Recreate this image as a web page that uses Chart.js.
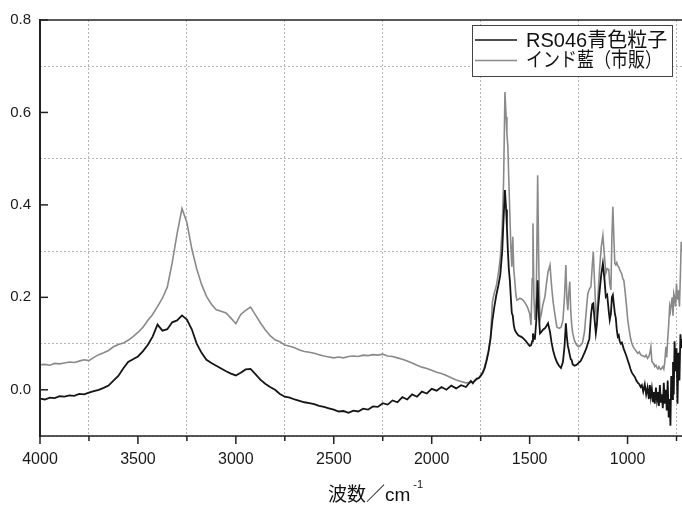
<!DOCTYPE html>
<html lang="ja">
<head>
<meta charset="utf-8">
<title>IR spectrum</title>
<script src="https://cdn.jsdelivr.net/npm/chart.js@4.4.1/dist/chart.umd.min.js"></script>
<style>
    html, body { margin: 0; padding: 0; background: #ffffff; }
    #wrap { position: relative; width: 682px; height: 505px; }
</style>
</head>
<body>
<div id="wrap"><canvas id="irChart"></canvas></div>
<script>
// ==========================================
// DATA
// ==========================================
const seriesLabels = ['RS046青色粒子', 'インド藍（市販）'];
const seriesColors = ['#151515', '#8a8a8a'];

// wavenumber, cm-1
const wavenumbers = [
    4000,3975,3950,3925,3900,3875,3850,3825,3800,3775,
    3750,3725,3700,3675,3650,3625,3600,3575,3550,3525,
    3500,3475,3450,3425,3400,3375,3350,3325,3300,3275,
    3250,3225,3200,3175,3150,3125,3100,3075,3050,3025,
    3000,2975,2950,2925,2900,2875,2850,2825,2800,2775,
    2750,2725,2700,2675,2650,2625,2600,2575,2550,2525,
    2500,2475,2450,2425,2400,2375,2350,2325,2300,2275,
    2250,2225,2200,2175,2150,2125,2100,2075,2050,2025,
    2000,1975,1950,1925,1900,1875,1850,1825,1800,1790,
    1780,1770,1760,1750,1740,1730,1720,1710,1700,1690,
    1680,1670,1660,1650,1640,1633,1626,1620,1616,1611,
    1606,1601,1596,1591,1586,1581,1576,1570,1565,1558,
    1550,1540,1530,1520,1510,1500,1493,1487,1483,1478,
    1473,1466,1459,1453,1447,1440,1432,1422,1414,1406,
    1396,1388,1380,1370,1361,1350,1340,1330,1322,1315,
    1310,1305,1300,1295,1290,1285,1280,1270,1260,1250,
    1240,1230,1220,1210,1203,1195,1187,1180,1175,1168,
    1162,1157,1150,1142,1134,1126,1118,1111,1104,1096,
    1091,1085,1080,1075,1070,1065,1060,1055,1050,1045,
    1040,1035,1029,1024,1019,1012,1005,999,992,985,
    978,970,963,955,947,940,933,927,920,912,
    905,898,891,886,881,876,870,865,861,855,
    850,845,840,835,830,825,820,815,810,804,
    800,795,790,785,781,777,772,768,764,760,
    755,750,745,740,735,730,726,722
];

// RS046青色粒子
const rs046Values = [
    -0.019,-0.021,-0.017,-0.018,-0.014,-0.015,-0.012,-0.013,-0.009,-0.010,
    -0.006,-0.003,0.000,0.004,0.009,0.020,0.030,0.046,0.060,0.066,
    0.072,0.083,0.097,0.115,0.141,0.128,0.131,0.146,0.150,0.161,
    0.152,0.131,0.100,0.080,0.065,0.058,0.052,0.046,0.040,0.035,
    0.031,0.037,0.044,0.045,0.034,0.022,0.013,0.006,0.000,-0.009,
    -0.015,-0.017,-0.021,-0.024,-0.027,-0.029,-0.031,-0.035,-0.037,-0.040,
    -0.043,-0.047,-0.046,-0.050,-0.045,-0.047,-0.041,-0.043,-0.036,-0.037,
    -0.029,-0.032,-0.023,-0.027,-0.016,-0.021,-0.010,-0.015,-0.004,-0.008,
    0.002,-0.002,0.006,0.000,0.009,0.003,0.010,0.006,0.019,0.014,
    0.020,0.024,0.025,0.030,0.036,0.046,0.062,0.082,0.110,0.150,
    0.180,0.205,0.225,0.248,0.300,0.370,0.432,0.390,0.352,0.300,
    0.260,0.237,0.200,0.166,0.160,0.140,0.130,0.125,0.122,0.118,
    0.116,0.114,0.110,0.106,0.100,0.095,0.096,0.105,0.122,0.110,
    0.110,0.150,0.237,0.160,0.122,0.125,0.130,0.133,0.138,0.144,
    0.125,0.102,0.085,0.070,0.060,0.052,0.047,0.060,0.093,0.144,
    0.115,0.095,0.086,0.075,0.066,0.064,0.055,0.052,0.054,0.058,
    0.062,0.070,0.080,0.090,0.100,0.110,0.160,0.185,0.187,0.150,
    0.122,0.140,0.180,0.216,0.250,0.273,0.240,0.201,0.205,0.170,
    0.151,0.165,0.200,0.205,0.185,0.166,0.155,0.130,0.115,0.118,
    0.105,0.100,0.102,0.095,0.088,0.080,0.072,0.064,0.055,0.045,
    0.037,0.032,0.028,0.020,0.015,0.012,0.006,0.010,-0.004,0.012,
    -0.010,0.005,-0.020,0.010,-0.015,0.002,-0.025,-0.005,-0.030,0.005,
    -0.022,-0.005,-0.035,0.010,-0.028,-0.010,-0.040,0.015,-0.030,0.000,
    -0.045,0.020,-0.060,-0.020,-0.078,0.030,-0.020,0.060,-0.010,0.105,
    0.040,0.090,-0.030,0.080,0.020,0.120,0.090,0.110
];

// インド藍（市販）
const indigoValues = [
    0.054,0.055,0.053,0.057,0.056,0.058,0.060,0.059,0.062,0.065,
    0.063,0.070,0.076,0.080,0.085,0.093,0.098,0.101,0.107,0.115,
    0.124,0.135,0.150,0.163,0.180,0.198,0.222,0.275,0.338,0.392,
    0.362,0.305,0.262,0.228,0.202,0.185,0.173,0.170,0.166,0.155,
    0.143,0.163,0.172,0.179,0.162,0.145,0.130,0.117,0.108,0.104,
    0.097,0.094,0.091,0.086,0.083,0.081,0.079,0.076,0.073,0.071,
    0.069,0.071,0.069,0.072,0.073,0.072,0.075,0.074,0.076,0.075,
    0.077,0.073,0.072,0.069,0.066,0.062,0.058,0.053,0.049,0.046,
    0.042,0.038,0.035,0.031,0.026,0.021,0.018,0.015,0.016,0.017,
    0.019,0.022,0.026,0.031,0.038,0.050,0.066,0.085,0.110,0.190,
    0.210,0.225,0.250,0.285,0.350,0.450,0.644,0.590,0.554,0.525,
    0.450,0.382,0.310,0.266,0.331,0.260,0.237,0.205,0.194,0.195,
    0.198,0.196,0.192,0.186,0.178,0.165,0.140,0.240,0.360,0.200,
    0.151,0.200,0.464,0.260,0.151,0.165,0.185,0.201,0.230,0.255,
    0.270,0.225,0.190,0.160,0.136,0.133,0.135,0.150,0.200,0.270,
    0.200,0.172,0.210,0.234,0.170,0.140,0.122,0.105,0.097,0.093,
    0.096,0.102,0.125,0.175,0.208,0.218,0.223,0.270,0.298,0.230,
    0.170,0.151,0.210,0.266,0.310,0.334,0.290,0.252,0.262,0.260,
    0.230,0.216,0.330,0.396,0.330,0.273,0.270,0.275,0.268,0.266,
    0.260,0.255,0.250,0.240,0.237,0.210,0.180,0.151,0.130,0.112,
    0.100,0.092,0.088,0.083,0.079,0.082,0.076,0.074,0.073,0.071,
    0.075,0.068,0.072,0.080,0.093,0.062,0.058,0.055,0.050,0.053,
    0.048,0.045,0.050,0.046,0.044,0.047,0.050,0.045,0.060,0.093,
    0.070,0.110,0.140,0.180,0.170,0.185,0.200,0.160,0.208,0.200,
    0.180,0.230,0.195,0.215,0.180,0.250,0.320,0.300
];

// label sumbu
const xMajorTicks = [4000, 3500, 3000, 2500, 2000, 1500, 1000];
const xMinorTicks = [3750, 3250, 2750, 2250, 1750, 1250, 750];
const yMajorTicks = [0.0, 0.2, 0.4, 0.6, 0.8];
const yMinorTicks = [-0.1, 0.1, 0.3, 0.5, 0.7];
const xRange = [722, 4000];
const yRange = [-0.1, 0.8];
const xTitleMain = '波数／cm';
const xTitleSup = '-1';

const LATIN_FONT = '"Liberation Sans", Arial, sans-serif';
const MIXED_FONT = '"Liberation Sans", "Noto Sans CJK JP", sans-serif';

function toPoints(values) {
    return values.map((v, i) => ({ x: wavenumbers[i], y: v }));
}

function isMajorX(v) { return xMajorTicks.indexOf(Math.round(v)) !== -1; }
function isMajorY(v) { return Math.round(v * 10) % 2 === 0; }

// semua tick (mayor + minor), urut
function tickList(major, minor) {
    return major.concat(minor).sort((a, b) => a - b).map(v => ({ value: v }));
}

// ==========================================
// Plugin: bingkai, tick, legend, judul sumbu
// ==========================================
const framePlugin = {
    id: 'frame',
    afterDraw(chart) {
        const ctx = chart.ctx;
        const area = chart.chartArea;
        const xs = chart.scales.x;
        const ys = chart.scales.y;

        ctx.save();
        ctx.strokeStyle = '#222';

        // garis atas
        ctx.lineWidth = 1.5;
        ctx.beginPath();
        ctx.moveTo(area.left, area.top);
        ctx.lineTo(area.right, area.top);
        ctx.stroke();

        // sumbu bawah
        ctx.beginPath();
        ctx.moveTo(area.left, area.bottom);
        ctx.lineTo(area.right, area.bottom);
        ctx.stroke();

        // sumbu kiri
        ctx.lineWidth = 2;
        ctx.beginPath();
        ctx.moveTo(area.left, area.top - 1);
        ctx.lineTo(area.left, area.bottom + 1);
        ctx.stroke();

        // tick x ke bawah
        ctx.lineWidth = 1.5;
        xMajorTicks.concat(xMinorTicks).forEach(v => {
            const px = xs.getPixelForValue(v);
            if (px > area.right + 1) return;
            const len = isMajorX(v) ? 8 : 5;
            ctx.beginPath();
            ctx.moveTo(px, area.bottom);
            ctx.lineTo(px, area.bottom + len);
            ctx.stroke();
        });

        // tick y ke dalam
        yMajorTicks.forEach(v => {
            const py = ys.getPixelForValue(v);
            ctx.beginPath();
            ctx.moveTo(area.left, py);
            ctx.lineTo(area.left + 8, py);
            ctx.stroke();
        });

        // legend
        const lx = 472, ly = 25, lw = 200, lh = 51;
        ctx.fillStyle = '#ffffff';
        ctx.fillRect(lx, ly, lw, lh);
        ctx.lineWidth = 1;
        ctx.strokeStyle = '#444';
        ctx.strokeRect(lx + 0.5, ly + 0.5, lw, lh);

        const rows = [40, 60.5];
        const widths = [144, 136];
        chart.data.datasets.forEach((ds, i) => {
            ctx.strokeStyle = ds.borderColor;
            ctx.lineWidth = 1.6;
            ctx.beginPath();
            ctx.moveTo(475, rows[i]);
            ctx.lineTo(517, rows[i]);
            ctx.stroke();

            ctx.fillStyle = '#111';
            ctx.font = '20px ' + MIXED_FONT;
            ctx.textAlign = 'left';
            ctx.textBaseline = 'middle';
            ctx.fillText(ds.label, 526, rows[i] + 1, widths[i]);
        });

        // judul sumbu x dengan pangkat
        ctx.fillStyle = '#111';
        ctx.textBaseline = 'alphabetic';
        ctx.font = '19px ' + MIXED_FONT;
        const tx = 328;
        ctx.fillText(xTitleMain, tx, 501);
        const w = ctx.measureText(xTitleMain).width;
        ctx.font = '11px ' + LATIN_FONT;
        ctx.fillText(xTitleSup, tx + w + 3, 488);

        ctx.restore();
    }
};

// ==========================================
// Render chart
// ==========================================
const ctx = document.getElementById('irChart').getContext('2d');
const chartInstance = new Chart(ctx, {
    type: 'line',
    data: {
        datasets: [
            {
                label: seriesLabels[0],
                data: toPoints(rs046Values),
                borderColor: seriesColors[0],
                borderWidth: 1.8,
                pointRadius: 0,
                tension: 0
            },
            {
                label: seriesLabels[1],
                data: toPoints(indigoValues),
                borderColor: seriesColors[1],
                borderWidth: 1.6,
                pointRadius: 0,
                tension: 0
            }
        ]
    },
    options: {
        responsive: true,
        maintainAspectRatio: false,
        animation: false,
        layout: { padding: { left: 0, top: 20, right: 0, bottom: 0 } },
        plugins: {
            legend: { display: false },
            tooltip: { enabled: false }
        },
        scales: {
            x: {
                type: 'linear',
                reverse: true,
                min: xRange[0],
                max: xRange[1],
                afterBuildTicks: s => { s.ticks = tickList(xMajorTicks, xMinorTicks); },
                afterFit: s => {
                    s.height = 69;
                    s.paddingLeft = 0;
                    s.paddingRight = 0;
                },
                border: { display: false, dash: [2, 2] },
                grid: {
                    drawTicks: false,
                    lineWidth: 1,
                    color: c => (c.tick && !isMajorX(c.tick.value)) ? '#b5b5b5' : 'transparent'
                },
                ticks: {
                    autoSkip: false,
                    maxRotation: 0,
                    padding: 14,
                    color: '#1a1a1a',
                    font: { family: LATIN_FONT, size: 16 },
                    callback: v => isMajorX(v) ? String(v) : ''
                }
            },
            y: {
                min: yRange[0],
                max: yRange[1],
                afterBuildTicks: s => { s.ticks = tickList(yMajorTicks, yMinorTicks); },
                afterFit: s => { s.width = 40; },
                border: { display: false, dash: [2, 2] },
                grid: {
                    drawTicks: false,
                    lineWidth: 1,
                    color: c => (c.tick && !isMajorY(c.tick.value)) ? '#b5b5b5' : 'transparent'
                },
                ticks: {
                    autoSkip: false,
                    padding: 9,
                    color: '#1a1a1a',
                    font: { family: LATIN_FONT, size: 15 },
                    callback: v => isMajorY(v) ? v.toFixed(1) : ''
                }
            }
        }
    },
    plugins: [framePlugin]
});
</script>
</body>
</html>
